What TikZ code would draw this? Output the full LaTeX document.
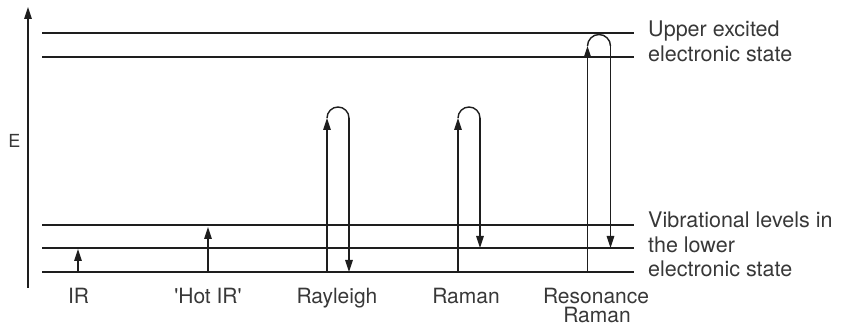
\documentclass[tikz,border=0pt]{standalone}
\usepackage{fontspec}
\setmainfont{TeX Gyre Heros}
\usetikzlibrary{arrows.meta}
\definecolor{ink}{HTML}{1E1E1E}
\definecolor{txt}{HTML}{383838}
\tikzset{
  level/.style={line width=2.9pt, draw=ink},
  trans/.style={line width=1.4pt, draw=ink, -{Triangle[length=12pt,width=7.5pt]}},
  plain/.style={line width=1.4pt, draw=ink},
  lbl/.style={text=txt, font=\fontsize{21}{24}\selectfont, inner sep=0pt, align=center},
  rlbl/.style={text=txt, font=\fontsize{21.5}{24.5}\selectfont, inner sep=0pt, anchor=base west},
}
\begin{document}
\begin{tikzpicture}[x=1pt,y=-1pt]
\useasboundingbox (0,0) rectangle (841,328);
% energy axis
\coordinate (Eb) at (28,288);
\coordinate (Et) at (28,7);
\draw[line width=1.6pt, draw=ink, -{Triangle[length=12pt,width=7.5pt]}] (Eb) -- (Et);
\node[text=txt, font=\fontsize{18}{20}\selectfont, inner sep=0pt] (E) at (14.5,141) {E};
% levels
\foreach \n/\y in {u1/33, u2/57, l3/225, l2/248, l1/272}{
  \coordinate (\n L) at (42,\y);
  \coordinate (\n R) at (634,\y);
  \draw[level] (\n L) -- (\n R);
}
% IR
\coordinate (ir0) at (78,272); \coordinate (ir1) at (78,249);
\draw[trans] (ir0) -- (ir1);
% Hot IR
\coordinate (hi0) at (208,272); \coordinate (hi1) at (208,227);
\draw[trans] (hi0) -- (hi1);
% Rayleigh
\coordinate (ry0) at (327,272); \coordinate (ry1) at (327,118);
\coordinate (ry2) at (349,118); \coordinate (ry3) at (349,272);
\draw[trans] (ry0) -- (ry1);
\draw[plain] (ry1) arc[start angle=180,end angle=0,radius=11pt];
\draw[trans] (ry2) -- (ry3);
% Raman
\coordinate (ra0) at (458,272); \coordinate (ra1) at (458,118);
\coordinate (ra2) at (480,118); \coordinate (ra3) at (480,248);
\draw[trans] (ra0) -- (ra1);
\draw[plain] (ra1) arc[start angle=180,end angle=0,radius=11pt];
\draw[trans] (ra2) -- (ra3);
% Resonance Raman
\coordinate (rr0) at (587.5,272); \coordinate (rr1) at (587.5,46);
\coordinate (rr2) at (610.5,46); \coordinate (rr3) at (610.5,248);
\draw[trans] (rr0) -- (rr1);
\draw[plain] (rr1) arc[start angle=180,end angle=0,radius=11.5pt];
\draw[trans] (rr2) -- (rr3);
% bottom labels
\node[lbl, anchor=base] (tIR) at (78.5,304) {IR};
\node[lbl, anchor=base] (tHot) at (208,304) {\textquotesingle Hot IR\textquotesingle};
\node[lbl, anchor=base] (tRay) at (337,304) {Rayleigh};
\node[lbl, anchor=base] (tRam) at (466,304) {Raman};
\node[lbl, anchor=base] (tRes1) at (596,304) {Resonance};
\node[lbl, anchor=base] (tRes2) at (597,323) {Raman};
% right labels
\node[rlbl] (r1) at (648,37) {Upper excited};
\node[rlbl] (r2) at (648,62) {electronic state};
\node[rlbl] (r3) at (648,228) {Vibrational levels in};
\node[rlbl] (r4) at (648,253) {the lower};
\node[rlbl] (r5) at (648,277) {electronic state};
\end{tikzpicture}
\end{document}
